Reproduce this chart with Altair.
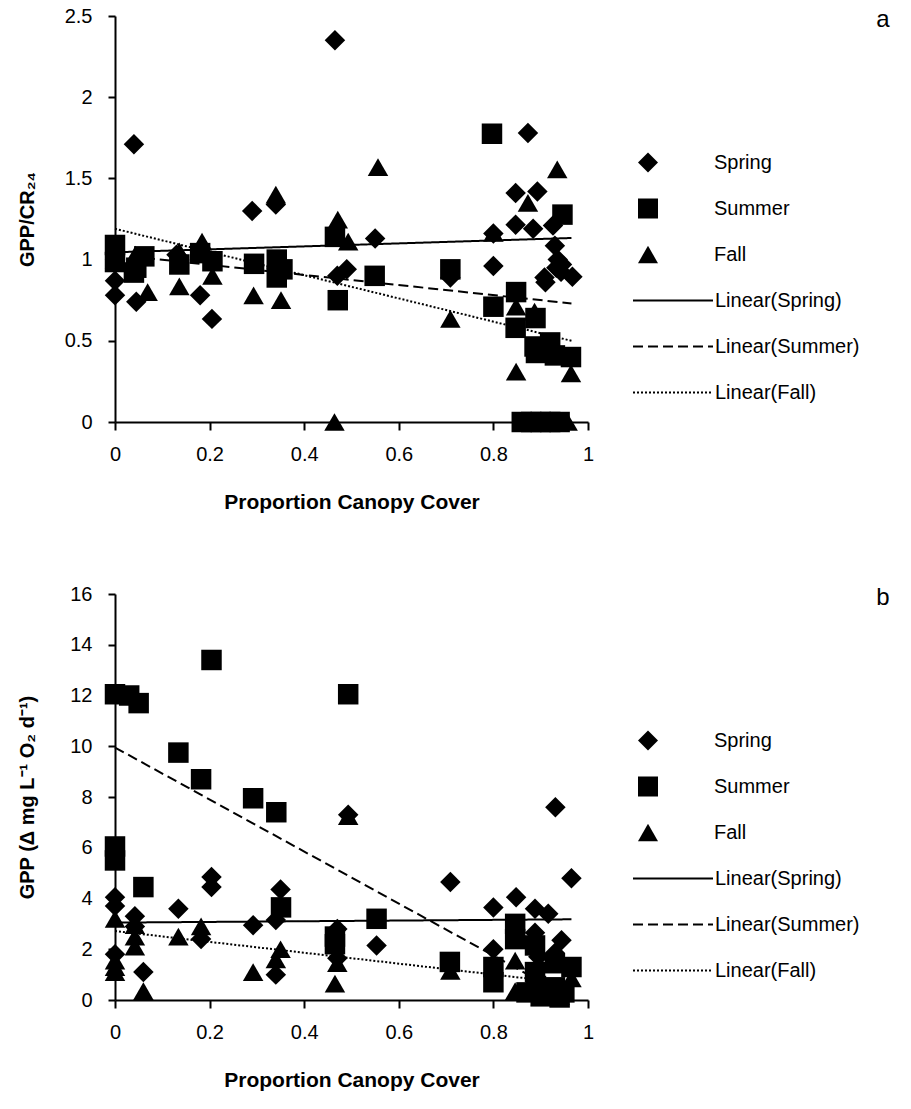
import altair as alt
import pandas as pd

FONT = "Liberation Sans"

seasons = ["Spring", "Summer", "Fall"]
season_shapes = ["diamond", "square", "triangle-up"]
trend_names = ["Linear(Spring)", "Linear(Summer)", "Linear(Fall)"]
trend_dashes = [[1, 0], [10, 5], [2, 2]]

x_ticks = [0, 0.2, 0.4, 0.6, 0.8, 1]
ya_ticks = [0, 0.5, 1, 1.5, 2, 2.5]
yb_ticks = [0, 2, 4, 6, 8, 10, 12, 14, 16]

# ---------------- panel a : GPP/CR24 ----------------
spring_a_x = [0.0, 0.0, 0.045, 0.04, 0.18, 0.205, 0.29, 0.34, 0.465, 0.47, 0.49, 0.55,
              0.709, 0.80, 0.80, 0.847, 0.847, 0.873, 0.884, 0.893, 0.908, 0.91, 0.926,
              0.93, 0.936, 0.945, 0.967, 0.0, 0.13, 0.943, 0.933]
spring_a_y = [0.87, 0.78, 0.74, 1.71, 0.78, 0.635, 1.30, 1.34, 2.35, 0.90, 0.94, 1.13,
              0.89, 0.96, 1.16, 1.41, 1.215, 1.78, 1.19, 1.42, 0.89, 0.86, 1.21,
              1.085, 1.0, 0.97, 0.895, 1.0, 1.03, 0.925, 0.95]
summer_a_x = [0.0, 0.0, 0.04, 0.045, 0.062, 0.136, 0.18, 0.206, 0.294, 0.342, 0.342, 0.354,
              0.465, 0.471, 0.549, 0.709, 0.797, 0.80, 0.848, 0.847, 0.889, 0.946, 0.887,
              0.92, 0.93, 0.964, 0.89, 0.86, 0.88, 0.90, 0.92, 0.94]
summer_a_y = [1.09, 0.985, 0.92, 0.95, 1.02, 0.97, 1.04, 0.99, 0.974, 1.0, 0.89, 0.94,
              1.14, 0.75, 0.90, 0.94, 1.775, 0.71, 0.80, 0.58, 0.64, 1.277, 0.465,
              0.49, 0.41, 0.40, 0.425, 0.0, 0.0, 0.0, 0.0, 0.0]
fall_a_x = [0.0, 0.043, 0.069, 0.136, 0.136, 0.184, 0.206, 0.293, 0.34, 0.351, 0.471, 0.493,
            0.464, 0.556, 0.709, 0.80, 0.873, 0.935, 0.848, 0.887, 0.848, 0.964, 0.957]
fall_a_y = [1.0, 1.03, 0.80, 0.835, 1.05, 1.11, 0.90, 0.78, 1.40, 0.75, 1.246, 1.11,
            0.0, 1.57, 0.635, 1.165, 1.35, 1.555, 0.71, 0.68, 0.31, 0.30, 0.0]
# trend line end points (x from 0 to 0.965)
trend_a_x = [0.0, 0.965]
trend_a_spring = [1.045, 1.133]
trend_a_summer = [1.03, 0.73]
trend_a_fall = [1.19, 0.50]

# ---------------- panel b : GPP ----------------
spring_b_x = [0.0, 0.0, 0.0, 0.042, 0.042, 0.06, 0.134, 0.182, 0.204, 0.204, 0.292, 0.34,
              0.34, 0.35, 0.47, 0.47, 0.493, 0.553, 0.709, 0.80, 0.80, 0.848, 0.888,
              0.888, 0.895, 0.916, 0.93, 0.931, 0.944, 0.965]
spring_b_y = [4.05, 3.7, 1.8, 3.3, 2.9, 1.1, 3.6, 2.4, 4.45, 4.85, 2.95, 3.15,
              1.0, 4.35, 2.8, 1.65, 7.3, 2.15, 4.65, 3.65, 2.0, 4.05, 3.6,
              2.65, 1.7, 3.4, 1.85, 7.6, 2.35, 4.8]
summer_b_x = [0.0, 0.0, 0.0, 0.03, 0.05, 0.06, 0.134, 0.182, 0.204, 0.292, 0.341, 0.351,
              0.465, 0.465, 0.493, 0.553, 0.708, 0.80, 0.80, 0.846, 0.846, 0.888, 0.888,
              0.93, 0.965, 0.87, 0.89, 0.90, 0.91, 0.92, 0.93, 0.94, 0.95]
summer_b_y = [12.05, 6.05, 5.5, 12.0, 11.7, 4.45, 9.75, 8.7, 13.4, 7.95, 7.4, 3.65,
              2.5, 2.2, 12.05, 3.2, 1.5, 1.3, 0.7, 3.0, 2.4, 2.15, 1.1,
              1.45, 1.3, 0.3, 0.55, 0.15, 0.4, 0.2, 0.5, 0.1, 0.3]
fall_b_x = [0.0, 0.0, 0.0, 0.0, 0.042, 0.042, 0.042, 0.06, 0.134, 0.182, 0.292, 0.35,
            0.34, 0.493, 0.47, 0.465, 0.709, 0.846, 0.846, 0.93, 0.965, 0.88, 0.90,
            0.92, 0.94]
fall_b_y = [3.2, 1.55, 1.3, 1.1, 2.95, 2.5, 2.1, 0.35, 2.5, 2.9, 1.1, 2.0,
            1.6, 7.25, 1.45, 0.65, 1.15, 1.55, 0.35, 1.45, 0.85, 0.3, 0.1,
            0.2, 0.15]
trend_b_x = [0.0, 0.965]
trend_b_spring = [3.05, 3.18]
trend_b_summer = [9.95, 0.06]
trend_b_fall = [2.72, 0.65]


def points_df(groups):
    rows = []
    for name, xs, ys in groups:
        for xv, yv in zip(xs, ys):
            rows.append({"x": xv, "y": yv, "season": name})
    return pd.DataFrame(rows)


def trend_df(xs, groups):
    rows = []
    for name, ys in groups:
        for xv, yv in zip(xs, ys):
            rows.append({"x": xv, "y": yv, "trend": name})
    return pd.DataFrame(rows)


PLOT_W = 473
NO_VIEW = alt.ViewBackground(stroke="transparent", strokeWidth=0, strokeOpacity=0,
                             fill="transparent")


def panel(pdf, tdf, ytitle, ydomain, yticks, height, letter):
    x_enc = alt.X(
        "x:Q",
        scale=alt.Scale(domain=[0, 1], nice=False, zero=False),
        axis=alt.Axis(
            values=x_ticks, format="~g", title="Proportion Canopy Cover", grid=False,
            domainColor="black", domainWidth=2, tickColor="black", tickWidth=2,
            tickSize=8, labelFont=FONT, labelFontSize=20, labelColor="black",
            labelPadding=14, labelFlush=False, titleFont=FONT, titleFontSize=21,
            titleFontWeight="bold", titleColor="black", titleY=80,
            titleBaseline="middle", gridColor="transparent",
        ),
    )
    y_enc = alt.Y(
        "y:Q",
        scale=alt.Scale(domain=ydomain, nice=False, zero=True),
        axis=alt.Axis(
            values=yticks, format="~g", title=ytitle, grid=False,
            domainColor="black", domainWidth=2, tickColor="black", tickWidth=2,
            tickSize=7, labelFont=FONT, labelFontSize=20, labelColor="black",
            labelPadding=16, labelFlush=False, titleFont=FONT, titleFontSize=20,
            titleFontWeight="bold", titleColor="black", titleX=-88,
            titleY=height / 2, titleBaseline="middle", titleAngle=270,
            gridColor="transparent",
        ),
    )
    pts = alt.Chart(pdf).mark_point(
        filled=True, color="black", opacity=1, size=420, strokeWidth=0
    ).encode(
        x=x_enc,
        y=y_enc,
        shape=alt.Shape(
            "season:N",
            scale=alt.Scale(domain=seasons, range=season_shapes),
            legend=alt.Legend(
                title=None, orient="none", legendX=523, legendY=135,
                labelFont=FONT, labelFontSize=20, labelColor="black",
                symbolSize=400, symbolFillColor="black", symbolStrokeColor="black",
                symbolStrokeWidth=0, symbolOpacity=1, labelOffset=56,
                clipHeight=23, rowPadding=23, padding=0,
            ),
        ),
    )
    lines = alt.Chart(tdf).mark_line(color="black", strokeWidth=2).encode(
        x=x_enc,
        y=y_enc,
        detail="trend:N",
        strokeDash=alt.StrokeDash(
            "trend:N",
            scale=alt.Scale(domain=trend_names, range=trend_dashes),
            legend=alt.Legend(
                title=None, orient="none", legendX=517, legendY=273,
                labelFont=FONT, labelFontSize=20, labelColor="black",
                symbolType="stroke", symbolSize=6400, symbolStrokeColor="black",
                symbolStrokeWidth=2, labelOffset=1, clipHeight=23,
                rowPadding=23, padding=0,
            ),
        ),
    )
    tag = alt.Chart(pd.DataFrame({"t": [letter]})).mark_text(
        font=FONT, fontSize=24, color="black", align="center", baseline="middle"
    ).encode(x=alt.value(768), y=alt.value(4), text="t:N")
    return alt.layer(pts, lines, tag).properties(
        width=PLOT_W, height=height, view=NO_VIEW
    )


pa = panel(
    points_df([("Spring", spring_a_x, spring_a_y), ("Summer", summer_a_x, summer_a_y),
               ("Fall", fall_a_x, fall_a_y)]),
    trend_df(trend_a_x, [("Linear(Spring)", trend_a_spring),
                         ("Linear(Summer)", trend_a_summer),
                         ("Linear(Fall)", trend_a_fall)]),
    "GPP/CR₂₄", [0, 2.5], ya_ticks, 406, "a",
)
pb = panel(
    points_df([("Spring", spring_b_x, spring_b_y), ("Summer", summer_b_x, summer_b_y),
               ("Fall", fall_b_x, fall_b_y)]),
    trend_df(trend_b_x, [("Linear(Spring)", trend_b_spring),
                         ("Linear(Summer)", trend_b_summer),
                         ("Linear(Fall)", trend_b_fall)]),
    "GPP (Δ mg L⁻¹ O₂ d⁻¹)", [0, 16], yb_ticks, 406, "b",
)

chart = alt.vconcat(pa, pb, spacing=172, bounds="flush").resolve_scale(
    x="independent", y="independent", shape="independent", strokeDash="independent"
).properties(
    padding={"left": 17, "top": 6, "right": 5, "bottom": 5}
).configure_view(
    stroke="transparent", strokeWidth=0, strokeOpacity=0
).configure_axis(grid=False, gridColor="transparent").configure(
    background="white",
    style={"cell": {"stroke": "transparent", "strokeWidth": 0, "strokeOpacity": 0}},
)

chart.save("out.html", embed_options={"renderer": "svg", "actions": False})
